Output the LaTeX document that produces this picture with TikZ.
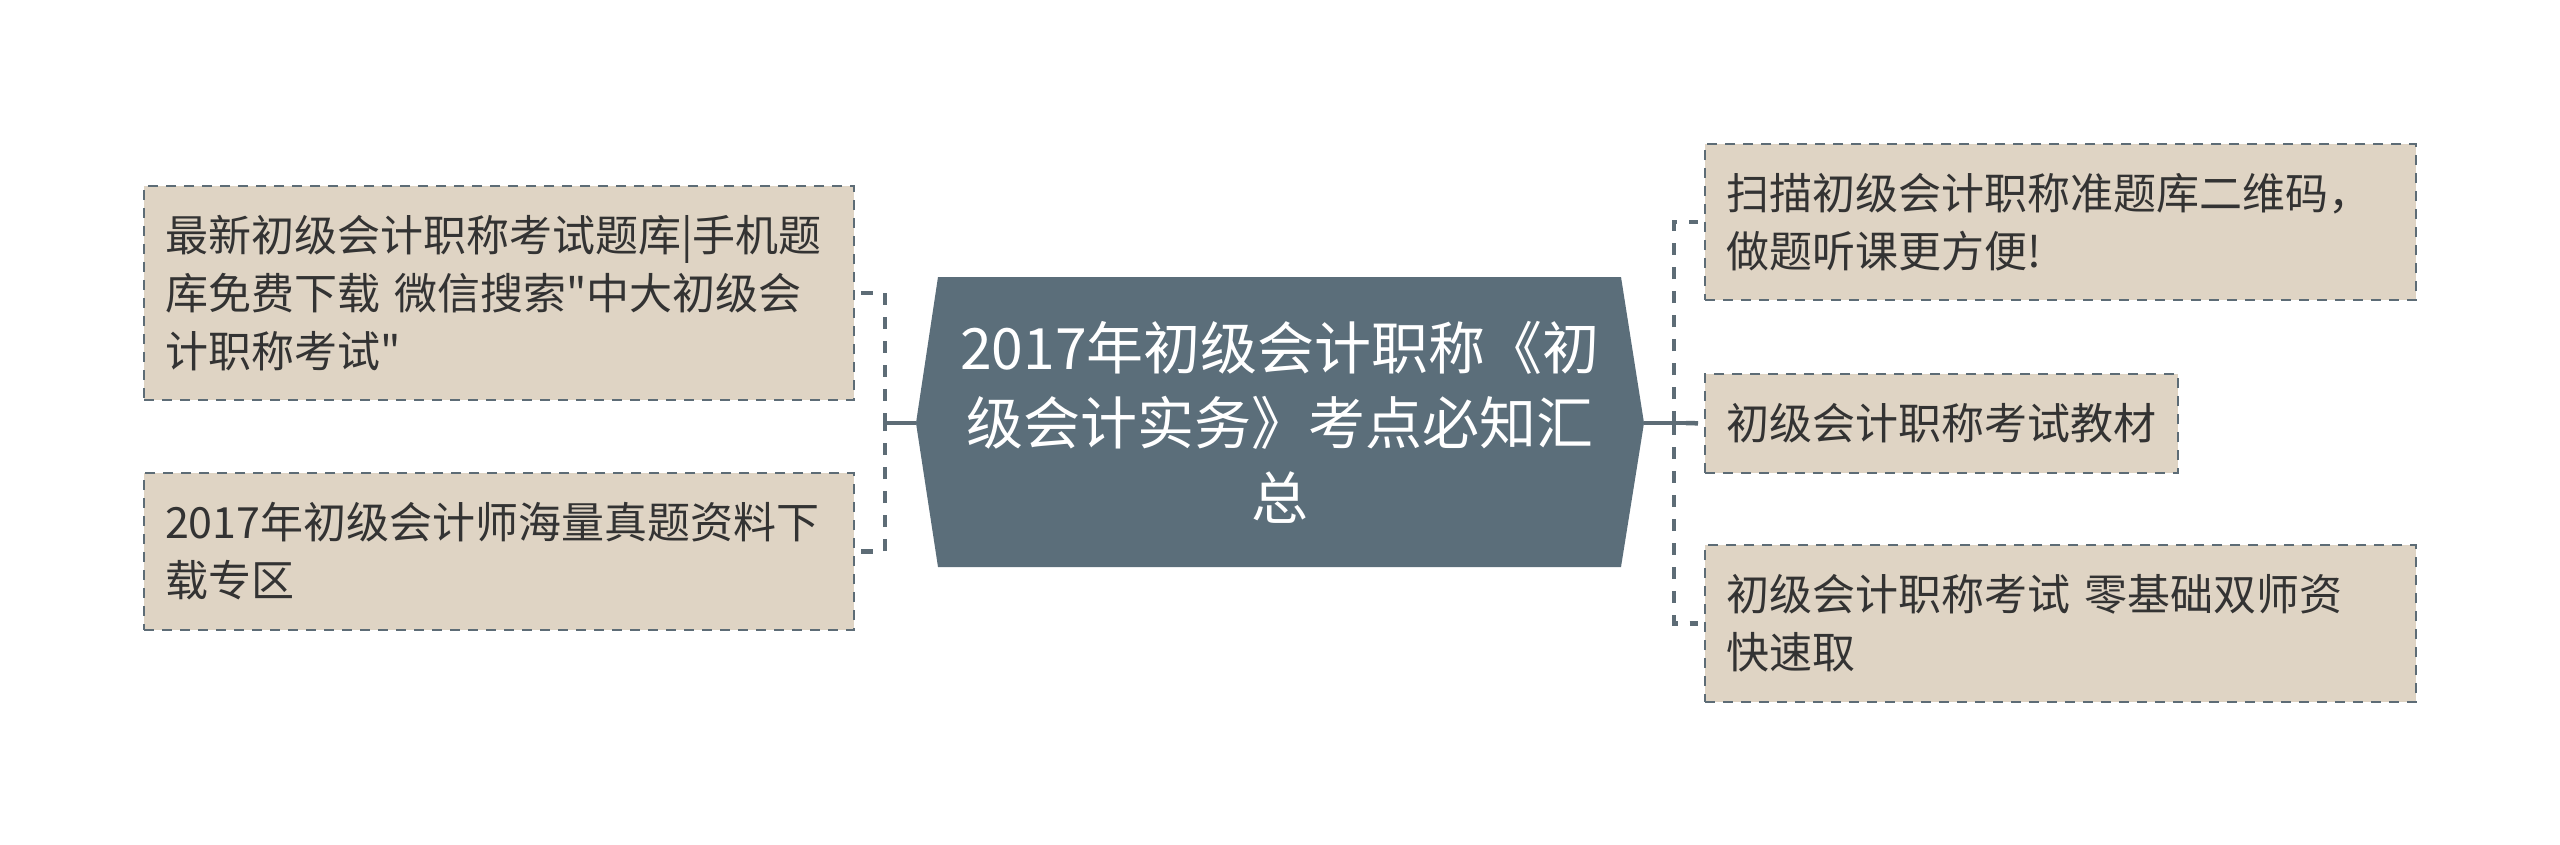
\documentclass[tikz,border=0pt]{standalone}
\usepackage{fontspec}
\newfontfamily\cjk{Noto Sans CJK SC}
\definecolor{hexc}{HTML}{5B6E7A}
\definecolor{leaff}{HTML}{DFD4C4}
\definecolor{linec}{HTML}{5D6C76}
\definecolor{textc}{HTML}{333333}
\begin{document}
\begin{tikzpicture}[x=1pt,y=-1pt,
  leaf/.style={draw=linec, line width=2.6pt, dash pattern=on 10pt off 8pt, fill=leaff, text=textc,
    font=\cjk\fontsize{43}{58}\selectfont, align=left, inner xsep=21pt, inner ysep=0pt},
  hexbox/.style={text=white, font=\cjk\fontsize{57}{75}\selectfont, align=center, inner sep=0pt},
  dconn/.style={draw=linec, line width=4.5pt, dash pattern=on 12pt off 12pt},
  sconn/.style={draw=linec, line width=4.5pt}]
\useasboundingbox (0,0) rectangle (2560,845);
\fill[white] (0,0) rectangle (2560,845);
% central hexagon
\fill[hexc] (916,423) -- (938,277) -- (1621,277) -- (1644,423) -- (1621,567) -- (938,567) -- cycle;
\coordinate (cl) at (916,423);
\coordinate (cr) at (1644,423);
\node[hexbox] (c) at (1280,422) {2017年初级会计职称《初\\级会计实务》考点必知汇\\总};
% left leaves
\node[leaf, text width=668pt, minimum height=214pt] (L1) at (499,293)
  {最新初级会计职称考试题库|手机题\\库免费下载 微信搜索"中大初级会\\计职称考试"};
\node[leaf, text width=668pt, minimum height=157pt] (L2) at (499,551.5)
  {2017年初级会计师海量真题资料下\\载专区};
% right leaves
\node[leaf, text width=669pt, minimum height=156pt] (R1) at (2060.5,222)
  {扫描初级会计职称准题库二维码，\\做题听课更方便!};
\node[leaf, text width=431pt, minimum height=99pt] (R2) at (1941.5,423.5)
  {初级会计职称考试教材};
\node[leaf, text width=669pt, minimum height=157pt] (R3) at (2060.5,623.5)
  {初级会计职称考试 零基础双师资\\快速取};
% connectors
\coordinate (lb) at (885,423);
\coordinate (rb) at (1674,423);
\coordinate (rs) at (1686,423);
\draw[dconn] ([xshift=6pt]L1.east) -| (lb);
\draw[dconn] ([xshift=6pt]L2.east) -| (lb);
\draw[sconn] (lb) -- (cl);
\draw[sconn] (cr) -- (rs);
\draw[dconn] (rb) |- ([xshift=-6pt]R1.west);
\draw[dconn] (rb) |- ([xshift=-6pt]R3.west);
\draw[dconn] (rs) -- (R2.west);
\end{tikzpicture}
\end{document}
